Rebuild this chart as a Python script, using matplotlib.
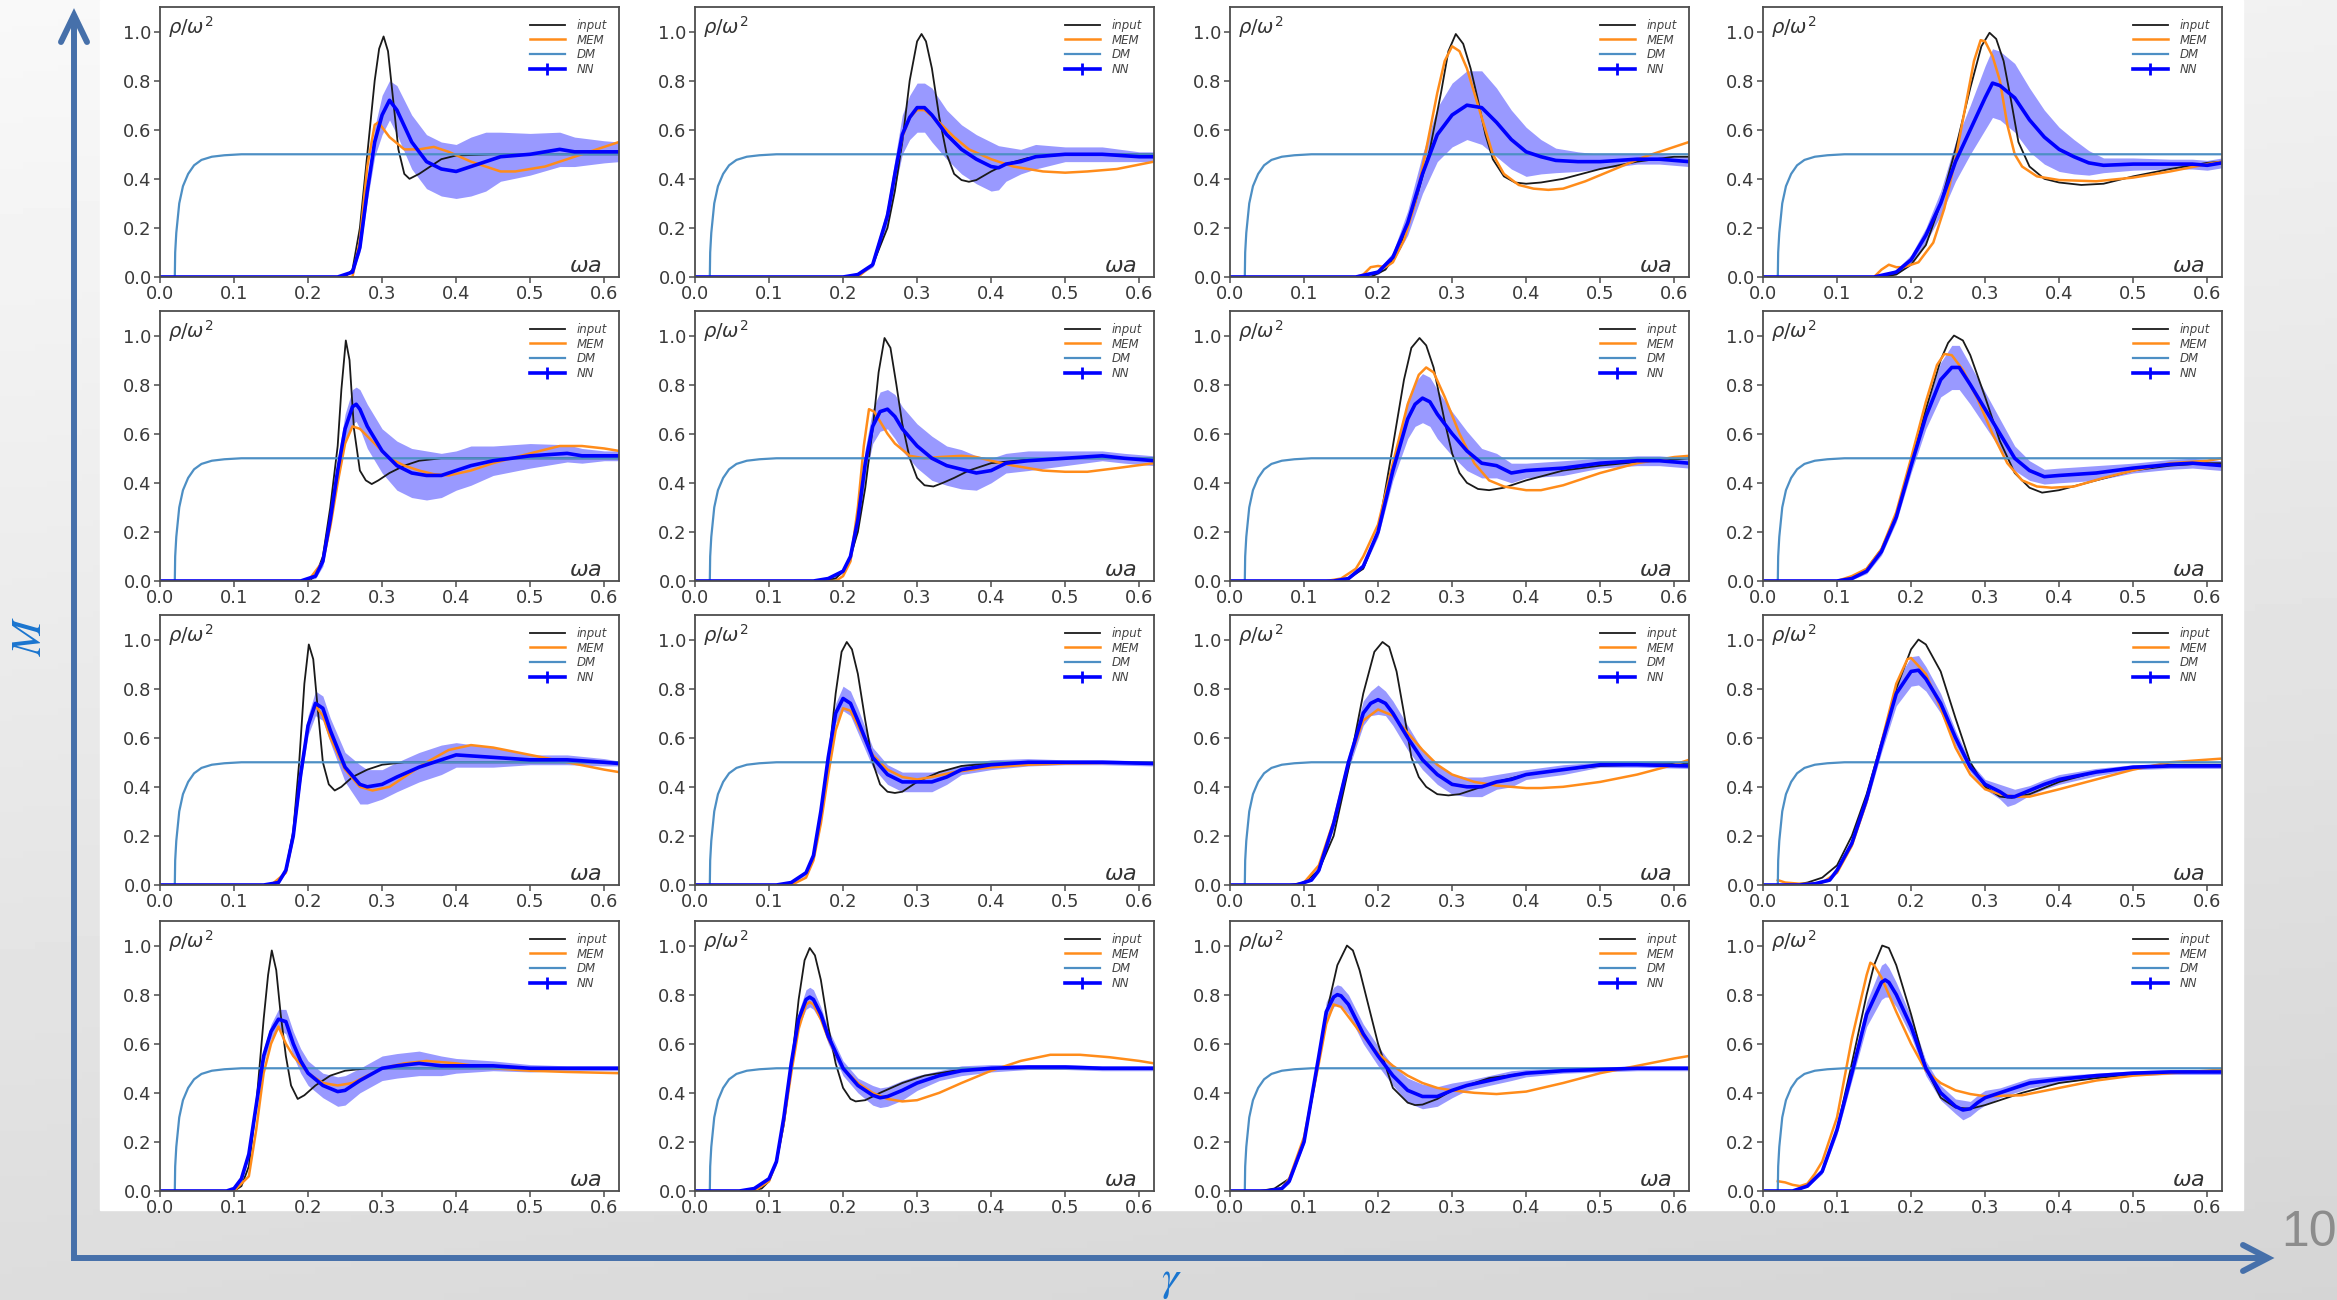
import matplotlib
matplotlib.use("Agg")
import matplotlib.pyplot as plt
import matplotlib.ticker as ticker
from matplotlib.lines import Line2D
from matplotlib.patches import Rectangle
import numpy as np

# ── Digitised curves ─────────────────────────────────────────────────────────
# input / MEM: (x, y);  NN: (x, y, half-width of the error band)
dm = [(0, 0), (0.02, 0), (0.0205, 0.1), (0.022, 0.18), (0.026, 0.3), (0.031, 0.37),
      (0.038, 0.42), (0.046, 0.455), (0.056, 0.477), (0.07, 0.49), (0.087, 0.496),
      (0.11, 0.5), (0.62, 0.5)]

# row 1 – peak at ωa ≈ 0.30
input_11 = [(0, 0), (0.25, 0), (0.26, 0.03), (0.27, 0.2), (0.28, 0.5), (0.29, 0.8), (0.296, 0.93),
            (0.302, 0.98), (0.308, 0.92), (0.315, 0.72), (0.322, 0.52), (0.33, 0.42), (0.337, 0.40),
            (0.35, 0.42), (0.365, 0.45), (0.38, 0.48), (0.40, 0.495), (0.45, 0.5), (0.62, 0.5)]
mem_11 = [(0, 0), (0.26, 0), (0.27, 0.15), (0.28, 0.45), (0.29, 0.62), (0.295, 0.63), (0.31, 0.57),
          (0.33, 0.52), (0.35, 0.52), (0.37, 0.53), (0.39, 0.51), (0.42, 0.47), (0.46, 0.43),
          (0.48, 0.43), (0.52, 0.45), (0.56, 0.49), (0.60, 0.53), (0.62, 0.55)]
nn_11 = [(0, 0, 0), (0.24, 0, 0), (0.26, 0.02, 0.005), (0.27, 0.12, 0.02), (0.28, 0.35, 0.04),
         (0.29, 0.55, 0.06), (0.30, 0.66, 0.08), (0.31, 0.72, 0.08), (0.32, 0.68, 0.1), (0.34, 0.55, 0.11),
         (0.36, 0.47, 0.11), (0.38, 0.44, 0.11), (0.40, 0.43, 0.11), (0.42, 0.45, 0.12), (0.44, 0.47, 0.12),
         (0.46, 0.49, 0.1), (0.50, 0.50, 0.085), (0.54, 0.52, 0.07), (0.56, 0.51, 0.06), (0.60, 0.51, 0.045),
         (0.62, 0.51, 0.04)]

input_12 = [(0, 0), (0.20, 0), (0.22, 0.01), (0.24, 0.05), (0.26, 0.2), (0.27, 0.35), (0.28, 0.55),
            (0.29, 0.8), (0.30, 0.96), (0.306, 0.99), (0.312, 0.96), (0.32, 0.85), (0.33, 0.65), (0.34, 0.5),
            (0.35, 0.42), (0.36, 0.395), (0.37, 0.388), (0.38, 0.395), (0.40, 0.43), (0.42, 0.46),
            (0.45, 0.485), (0.50, 0.5), (0.62, 0.5)]
mem_12 = [(0, 0), (0.22, 0), (0.24, 0.05), (0.26, 0.25), (0.27, 0.42), (0.28, 0.57), (0.29, 0.65),
          (0.30, 0.68), (0.31, 0.68), (0.33, 0.63), (0.35, 0.57), (0.37, 0.52), (0.40, 0.48), (0.43, 0.45),
          (0.47, 0.43), (0.50, 0.425), (0.53, 0.43), (0.57, 0.44), (0.62, 0.47)]
nn_12 = [(0, 0, 0), (0.20, 0, 0), (0.22, 0.01, 0.005), (0.24, 0.05, 0.01), (0.26, 0.25, 0.04),
         (0.27, 0.42, 0.06), (0.28, 0.58, 0.08), (0.29, 0.65, 0.09), (0.30, 0.69, 0.1), (0.31, 0.69, 0.1),
         (0.32, 0.66, 0.11), (0.34, 0.58, 0.1), (0.36, 0.52, 0.1), (0.38, 0.48, 0.1), (0.40, 0.45, 0.1),
         (0.41, 0.445, 0.09), (0.42, 0.46, 0.07), (0.44, 0.47, 0.05), (0.46, 0.49, 0.05), (0.50, 0.50, 0.03),
         (0.55, 0.50, 0.03), (0.60, 0.49, 0.02), (0.62, 0.49, 0.02)]

input_13 = [(0, 0), (0.19, 0), (0.21, 0.03), (0.23, 0.12), (0.25, 0.3), (0.27, 0.52), (0.285, 0.75),
            (0.295, 0.92), (0.305, 0.99), (0.315, 0.95), (0.325, 0.85), (0.335, 0.72), (0.345, 0.58),
            (0.355, 0.48), (0.37, 0.41), (0.385, 0.385), (0.40, 0.38), (0.42, 0.385), (0.45, 0.40),
            (0.50, 0.44), (0.55, 0.47), (0.60, 0.49), (0.62, 0.49)]
mem_13 = [(0, 0), (0.17, 0), (0.18, 0.01), (0.19, 0.04), (0.20, 0.045), (0.21, 0.04), (0.22, 0.06),
          (0.235, 0.15), (0.25, 0.3), (0.265, 0.52), (0.28, 0.75), (0.29, 0.88), (0.30, 0.94), (0.31, 0.92),
          (0.32, 0.85), (0.335, 0.7), (0.345, 0.6), (0.355, 0.5), (0.37, 0.42), (0.39, 0.375), (0.41, 0.36),
          (0.43, 0.355), (0.45, 0.36), (0.48, 0.39), (0.52, 0.44), (0.56, 0.49), (0.59, 0.52), (0.62, 0.55)]
nn_13 = [(0, 0, 0), (0.17, 0, 0), (0.20, 0.02, 0.01), (0.22, 0.08, 0.02), (0.24, 0.22, 0.05),
         (0.26, 0.42, 0.08), (0.28, 0.58, 0.11), (0.30, 0.66, 0.13), (0.32, 0.70, 0.14), (0.34, 0.69, 0.15),
         (0.36, 0.63, 0.14), (0.38, 0.56, 0.12), (0.40, 0.51, 0.1), (0.42, 0.49, 0.07), (0.44, 0.475, 0.05),
         (0.47, 0.47, 0.04), (0.50, 0.47, 0.03), (0.55, 0.48, 0.02), (0.58, 0.48, 0.02), (0.62, 0.47, 0.02)]

input_14 = [(0, 0), (0.16, 0), (0.18, 0.01), (0.20, 0.05), (0.22, 0.13), (0.24, 0.3), (0.26, 0.52),
            (0.28, 0.77), (0.295, 0.94), (0.306, 0.995), (0.315, 0.97), (0.325, 0.88), (0.335, 0.72),
            (0.345, 0.55), (0.36, 0.45), (0.38, 0.40), (0.40, 0.385), (0.43, 0.375), (0.46, 0.38),
            (0.50, 0.41), (0.55, 0.44), (0.60, 0.465), (0.62, 0.47)]
mem_14 = [(0, 0), (0.15, 0), (0.16, 0.03), (0.17, 0.05), (0.18, 0.04), (0.19, 0.04), (0.21, 0.06),
          (0.23, 0.14), (0.245, 0.28), (0.26, 0.48), (0.275, 0.72), (0.285, 0.88), (0.294, 0.965),
          (0.30, 0.96), (0.31, 0.9), (0.32, 0.8), (0.33, 0.62), (0.34, 0.5), (0.35, 0.45), (0.37, 0.41),
          (0.40, 0.395), (0.45, 0.39), (0.50, 0.405), (0.55, 0.43), (0.60, 0.46), (0.62, 0.47)]
nn_14 = [(0, 0, 0), (0.15, 0, 0), (0.18, 0.02, 0.01), (0.20, 0.07, 0.02), (0.22, 0.17, 0.03),
         (0.24, 0.3, 0.05), (0.26, 0.47, 0.08), (0.28, 0.6, 0.1), (0.30, 0.73, 0.13), (0.31, 0.79, 0.14),
         (0.32, 0.78, 0.14), (0.33, 0.755, 0.14), (0.34, 0.73, 0.14), (0.36, 0.64, 0.13), (0.38, 0.57, 0.11),
         (0.40, 0.52, 0.09), (0.42, 0.49, 0.07), (0.44, 0.465, 0.05), (0.46, 0.455, 0.03), (0.50, 0.46, 0.025),
         (0.55, 0.46, 0.02), (0.58, 0.46, 0.02), (0.60, 0.455, 0.02), (0.62, 0.465, 0.02)]

# row 2 – peak at ωa ≈ 0.25
input_21 = [(0, 0), (0.20, 0), (0.21, 0.02), (0.22, 0.1), (0.23, 0.3), (0.24, 0.55), (0.245, 0.78),
            (0.251, 0.98), (0.256, 0.9), (0.262, 0.62), (0.27, 0.45), (0.278, 0.41), (0.286, 0.395),
            (0.295, 0.41), (0.31, 0.44), (0.33, 0.47), (0.35, 0.49), (0.38, 0.5), (0.62, 0.5)]
mem_21 = [(0, 0), (0.20, 0), (0.22, 0.08), (0.23, 0.22), (0.24, 0.4), (0.25, 0.56), (0.26, 0.63),
          (0.27, 0.62), (0.29, 0.56), (0.31, 0.5), (0.33, 0.47), (0.35, 0.45), (0.37, 0.435), (0.39, 0.43),
          (0.42, 0.45), (0.45, 0.48), (0.50, 0.52), (0.54, 0.55), (0.57, 0.55), (0.60, 0.54), (0.62, 0.53)]
nn_21 = [(0, 0, 0), (0.19, 0, 0), (0.21, 0.02, 0.01), (0.22, 0.08, 0.02), (0.23, 0.25, 0.03),
         (0.24, 0.45, 0.05), (0.25, 0.62, 0.06), (0.26, 0.71, 0.07), (0.265, 0.72, 0.07), (0.27, 0.7, 0.08),
         (0.28, 0.63, 0.09), (0.30, 0.53, 0.09), (0.32, 0.47, 0.1), (0.34, 0.44, 0.1), (0.36, 0.43, 0.1),
         (0.38, 0.43, 0.09), (0.40, 0.45, 0.08), (0.42, 0.47, 0.08), (0.45, 0.49, 0.06), (0.50, 0.51, 0.05),
         (0.55, 0.52, 0.035), (0.57, 0.51, 0.03), (0.60, 0.51, 0.02), (0.62, 0.51, 0.02)]

input_22 = [(0, 0), (0.17, 0), (0.19, 0.01), (0.20, 0.04), (0.21, 0.1), (0.22, 0.2), (0.23, 0.38),
            (0.24, 0.62), (0.248, 0.85), (0.256, 0.99), (0.264, 0.95), (0.272, 0.8), (0.28, 0.64),
            (0.29, 0.5), (0.30, 0.42), (0.31, 0.39), (0.322, 0.385), (0.335, 0.4), (0.35, 0.42),
            (0.37, 0.45), (0.40, 0.48), (0.45, 0.495), (0.50, 0.5), (0.62, 0.5)]
mem_22 = [(0, 0), (0.19, 0), (0.20, 0.02), (0.21, 0.08), (0.22, 0.3), (0.228, 0.55), (0.235, 0.70),
          (0.242, 0.69), (0.25, 0.65), (0.26, 0.6), (0.27, 0.56), (0.29, 0.51), (0.31, 0.5), (0.33, 0.505),
          (0.36, 0.51), (0.38, 0.505), (0.40, 0.49), (0.43, 0.47), (0.47, 0.45), (0.50, 0.445),
          (0.53, 0.445), (0.57, 0.46), (0.62, 0.48)]
nn_22 = [(0, 0, 0), (0.16, 0, 0), (0.18, 0.01, 0.005), (0.20, 0.04, 0.01), (0.21, 0.1, 0.02),
         (0.22, 0.25, 0.04), (0.23, 0.48, 0.06), (0.24, 0.63, 0.07), (0.25, 0.69, 0.08), (0.26, 0.70, 0.08),
         (0.27, 0.67, 0.09), (0.28, 0.62, 0.09), (0.30, 0.55, 0.09), (0.32, 0.50, 0.09), (0.34, 0.47, 0.08),
         (0.36, 0.455, 0.08), (0.38, 0.44, 0.07), (0.40, 0.45, 0.05), (0.42, 0.48, 0.04), (0.45, 0.49, 0.04),
         (0.50, 0.50, 0.03), (0.55, 0.51, 0.02), (0.58, 0.50, 0.02), (0.62, 0.49, 0.02)]

input_23 = [(0, 0), (0.15, 0), (0.16, 0.01), (0.18, 0.05), (0.20, 0.2), (0.22, 0.55), (0.235, 0.82),
            (0.245, 0.95), (0.256, 0.99), (0.265, 0.96), (0.275, 0.87), (0.29, 0.65), (0.30, 0.52),
            (0.31, 0.44), (0.32, 0.40), (0.335, 0.375), (0.35, 0.37), (0.37, 0.38), (0.40, 0.41),
            (0.45, 0.45), (0.50, 0.47), (0.55, 0.485), (0.60, 0.495), (0.62, 0.5)]
mem_23 = [(0, 0), (0.13, 0), (0.15, 0.01), (0.17, 0.05), (0.18, 0.1), (0.20, 0.23), (0.22, 0.48),
          (0.24, 0.72), (0.255, 0.84), (0.265, 0.87), (0.275, 0.85), (0.29, 0.75), (0.31, 0.6), (0.33, 0.48),
          (0.35, 0.41), (0.37, 0.385), (0.40, 0.37), (0.42, 0.37), (0.45, 0.39), (0.50, 0.44), (0.55, 0.48),
          (0.60, 0.505), (0.62, 0.51)]
nn_23 = [(0, 0, 0), (0.14, 0, 0), (0.16, 0.01, 0.005), (0.18, 0.06, 0.01), (0.20, 0.2, 0.02),
         (0.22, 0.45, 0.04), (0.24, 0.66, 0.08), (0.25, 0.72, 0.09), (0.26, 0.745, 0.1), (0.27, 0.73, 0.1),
         (0.28, 0.68, 0.1), (0.30, 0.6, 0.09), (0.32, 0.53, 0.08), (0.34, 0.48, 0.06), (0.36, 0.47, 0.05),
         (0.38, 0.44, 0.04), (0.40, 0.45, 0.03), (0.45, 0.46, 0.03), (0.50, 0.48, 0.02), (0.55, 0.49, 0.02),
         (0.58, 0.49, 0.02), (0.62, 0.48, 0.02)]

input_24 = [(0, 0), (0.10, 0), (0.12, 0.01), (0.14, 0.05), (0.16, 0.13), (0.18, 0.27), (0.20, 0.48),
            (0.22, 0.7), (0.24, 0.9), (0.25, 0.97), (0.258, 1.0), (0.27, 0.98), (0.28, 0.92), (0.30, 0.75),
            (0.32, 0.57), (0.34, 0.44), (0.36, 0.38), (0.377, 0.36), (0.40, 0.37), (0.45, 0.41),
            (0.50, 0.45), (0.55, 0.47), (0.60, 0.48), (0.62, 0.48)]
mem_24 = [(0, 0), (0.10, 0), (0.12, 0.02), (0.14, 0.05), (0.16, 0.13), (0.18, 0.28), (0.20, 0.5),
          (0.22, 0.73), (0.235, 0.88), (0.245, 0.925), (0.255, 0.92), (0.27, 0.86), (0.29, 0.74),
          (0.31, 0.6), (0.33, 0.48), (0.35, 0.41), (0.37, 0.385), (0.39, 0.38), (0.42, 0.385), (0.46, 0.42),
          (0.50, 0.45), (0.55, 0.48), (0.60, 0.49), (0.62, 0.5)]
nn_24 = [(0, 0, 0), (0.10, 0, 0), (0.12, 0.01, 0.005), (0.14, 0.04, 0.01), (0.16, 0.12, 0.015),
         (0.18, 0.26, 0.02), (0.20, 0.47, 0.03), (0.22, 0.67, 0.05), (0.24, 0.82, 0.07), (0.255, 0.87, 0.09),
         (0.265, 0.87, 0.09), (0.28, 0.8, 0.08), (0.30, 0.7, 0.07), (0.32, 0.6, 0.06), (0.34, 0.5, 0.05),
         (0.36, 0.45, 0.04), (0.38, 0.425, 0.03), (0.40, 0.43, 0.03), (0.45, 0.44, 0.03), (0.50, 0.46, 0.02),
         (0.55, 0.475, 0.02), (0.58, 0.48, 0.02), (0.62, 0.47, 0.02)]

# row 3 – peak at ωa ≈ 0.20
input_31 = [(0, 0), (0.15, 0), (0.16, 0.01), (0.17, 0.06), (0.18, 0.22), (0.188, 0.5), (0.195, 0.82),
            (0.201, 0.98), (0.207, 0.92), (0.213, 0.72), (0.22, 0.5), (0.228, 0.41), (0.236, 0.385),
            (0.245, 0.4), (0.26, 0.44), (0.28, 0.47), (0.30, 0.49), (0.33, 0.5), (0.62, 0.5)]
mem_31 = [(0, 0), (0.15, 0), (0.17, 0.05), (0.18, 0.2), (0.19, 0.45), (0.20, 0.65), (0.21, 0.73),
          (0.22, 0.69), (0.23, 0.6), (0.25, 0.47), (0.27, 0.4), (0.287, 0.385), (0.31, 0.4), (0.33, 0.44),
          (0.36, 0.5), (0.39, 0.55), (0.42, 0.57), (0.45, 0.56), (0.50, 0.53), (0.55, 0.5), (0.60, 0.47),
          (0.62, 0.46)]
nn_31 = [(0, 0, 0), (0.14, 0, 0), (0.16, 0.01, 0.005), (0.17, 0.06, 0.01), (0.18, 0.2, 0.02),
         (0.19, 0.45, 0.03), (0.20, 0.65, 0.04), (0.21, 0.74, 0.05), (0.22, 0.72, 0.05), (0.23, 0.63, 0.05),
         (0.25, 0.48, 0.06), (0.27, 0.41, 0.08), (0.28, 0.40, 0.07), (0.30, 0.41, 0.06), (0.32, 0.44, 0.06),
         (0.35, 0.48, 0.06), (0.38, 0.51, 0.06), (0.40, 0.53, 0.05), (0.45, 0.52, 0.04), (0.50, 0.51, 0.02),
         (0.55, 0.51, 0.02), (0.60, 0.50, 0.015), (0.62, 0.495, 0.01)]

input_32 = [(0, 0), (0.11, 0), (0.13, 0.01), (0.15, 0.05), (0.16, 0.12), (0.17, 0.27), (0.18, 0.5),
            (0.19, 0.78), (0.198, 0.95), (0.205, 0.99), (0.212, 0.96), (0.22, 0.86), (0.23, 0.67),
            (0.24, 0.5), (0.25, 0.41), (0.26, 0.38), (0.27, 0.375), (0.28, 0.38), (0.30, 0.42),
            (0.33, 0.46), (0.36, 0.485), (0.40, 0.495), (0.45, 0.5), (0.62, 0.5)]
mem_32 = [(0, 0), (0.13, 0), (0.15, 0.03), (0.16, 0.1), (0.17, 0.25), (0.18, 0.45), (0.19, 0.63),
          (0.20, 0.72), (0.21, 0.71), (0.22, 0.65), (0.24, 0.53), (0.26, 0.47), (0.28, 0.44), (0.30, 0.43),
          (0.32, 0.44), (0.35, 0.46), (0.40, 0.48), (0.45, 0.49), (0.50, 0.495), (0.62, 0.5)]
nn_32 = [(0, 0, 0), (0.11, 0, 0), (0.13, 0.01, 0.005), (0.15, 0.05, 0.01), (0.16, 0.12, 0.01),
         (0.17, 0.3, 0.02), (0.18, 0.52, 0.03), (0.19, 0.7, 0.04), (0.20, 0.76, 0.05), (0.21, 0.74, 0.05),
         (0.22, 0.67, 0.05), (0.24, 0.52, 0.04), (0.26, 0.45, 0.04), (0.28, 0.42, 0.04), (0.30, 0.42, 0.04),
         (0.32, 0.42, 0.04), (0.34, 0.44, 0.03), (0.36, 0.47, 0.02), (0.40, 0.49, 0.02), (0.45, 0.50, 0.015),
         (0.50, 0.50, 0.01), (0.55, 0.50, 0.01), (0.62, 0.495, 0.01)]

input_33 = [(0, 0), (0.08, 0), (0.10, 0.01), (0.12, 0.06), (0.14, 0.2), (0.162, 0.5), (0.18, 0.78),
            (0.195, 0.95), (0.206, 0.99), (0.215, 0.97), (0.225, 0.87), (0.235, 0.7), (0.245, 0.52),
            (0.255, 0.44), (0.265, 0.4), (0.28, 0.37), (0.295, 0.365), (0.31, 0.37), (0.33, 0.39),
            (0.36, 0.42), (0.40, 0.45), (0.45, 0.47), (0.50, 0.485), (0.55, 0.49), (0.62, 0.495)]
mem_33 = [(0, 0), (0.09, 0), (0.10, 0.01), (0.12, 0.08), (0.14, 0.26), (0.16, 0.5), (0.18, 0.67),
          (0.20, 0.715), (0.22, 0.69), (0.24, 0.62), (0.26, 0.55), (0.28, 0.49), (0.30, 0.45), (0.33, 0.42),
          (0.36, 0.405), (0.40, 0.395), (0.42, 0.395), (0.45, 0.40), (0.50, 0.42), (0.55, 0.45),
          (0.60, 0.49), (0.62, 0.51)]
nn_33 = [(0, 0, 0), (0.09, 0, 0), (0.11, 0.02, 0.005), (0.12, 0.06, 0.01), (0.14, 0.25, 0.02),
         (0.16, 0.5, 0.03), (0.18, 0.7, 0.05), (0.19, 0.74, 0.05), (0.20, 0.755, 0.06), (0.21, 0.74, 0.05),
         (0.22, 0.7, 0.05), (0.24, 0.6, 0.05), (0.26, 0.51, 0.04), (0.28, 0.45, 0.04), (0.30, 0.41, 0.04),
         (0.32, 0.40, 0.04), (0.34, 0.40, 0.04), (0.36, 0.42, 0.03), (0.38, 0.43, 0.03), (0.40, 0.45, 0.02),
         (0.45, 0.47, 0.02), (0.50, 0.49, 0.01), (0.55, 0.49, 0.01), (0.62, 0.485, 0.01)]

input_34 = [(0, 0), (0.04, 0), (0.06, 0.01), (0.08, 0.03), (0.10, 0.08), (0.12, 0.2), (0.14, 0.37),
            (0.16, 0.58), (0.18, 0.8), (0.20, 0.96), (0.21, 1.0), (0.22, 0.98), (0.24, 0.87), (0.26, 0.68),
            (0.28, 0.5), (0.30, 0.4), (0.32, 0.36), (0.336, 0.355), (0.36, 0.37), (0.40, 0.42),
            (0.45, 0.46), (0.50, 0.48), (0.55, 0.49), (0.62, 0.49)]
mem_34 = [(0.02, 0.02), (0.03, 0.01), (0.05, 0.005), (0.07, 0.005), (0.08, 0.01), (0.10, 0.05),
          (0.12, 0.16), (0.14, 0.34), (0.16, 0.58), (0.18, 0.82), (0.195, 0.92), (0.20, 0.925), (0.22, 0.86),
          (0.24, 0.72), (0.26, 0.56), (0.28, 0.45), (0.30, 0.39), (0.32, 0.37), (0.34, 0.36), (0.36, 0.36),
          (0.40, 0.39), (0.45, 0.43), (0.50, 0.47), (0.55, 0.5), (0.62, 0.515)]
nn_34 = [(0, 0, 0), (0.05, 0, 0), (0.07, 0.005, 0), (0.09, 0.02, 0.005), (0.10, 0.06, 0.01),
         (0.12, 0.17, 0.01), (0.14, 0.35, 0.02), (0.16, 0.57, 0.03), (0.18, 0.78, 0.05), (0.20, 0.87, 0.06),
         (0.21, 0.875, 0.06), (0.22, 0.84, 0.05), (0.24, 0.74, 0.04), (0.26, 0.6, 0.03), (0.28, 0.48, 0.02),
         (0.30, 0.41, 0.02), (0.32, 0.38, 0.03), (0.33, 0.36, 0.04), (0.34, 0.36, 0.03), (0.36, 0.385, 0.02),
         (0.38, 0.41, 0.02), (0.40, 0.43, 0.02), (0.45, 0.46, 0.015), (0.50, 0.48, 0.01), (0.55, 0.485, 0.01),
         (0.62, 0.485, 0.01)]

# row 4 – peak at ωa ≈ 0.15
input_41 = [(0, 0), (0.10, 0), (0.11, 0.02), (0.12, 0.1), (0.13, 0.35), (0.14, 0.7), (0.146, 0.88),
            (0.151, 0.98), (0.157, 0.9), (0.163, 0.72), (0.17, 0.55), (0.177, 0.43), (0.186, 0.375),
            (0.195, 0.39), (0.21, 0.43), (0.23, 0.47), (0.25, 0.49), (0.28, 0.5), (0.62, 0.5)]
mem_41 = [(0, 0), (0.10, 0), (0.12, 0.06), (0.13, 0.25), (0.14, 0.48), (0.15, 0.6), (0.16, 0.67),
          (0.17, 0.6), (0.18, 0.55), (0.20, 0.48), (0.22, 0.44), (0.24, 0.43), (0.26, 0.44), (0.28, 0.47),
          (0.30, 0.5), (0.33, 0.52), (0.36, 0.53), (0.40, 0.52), (0.45, 0.5), (0.50, 0.49), (0.55, 0.485),
          (0.62, 0.48)]
nn_41 = [(0, 0, 0), (0.09, 0, 0), (0.10, 0.01, 0.005), (0.11, 0.05, 0.01), (0.12, 0.15, 0.015),
         (0.13, 0.35, 0.02), (0.14, 0.55, 0.03), (0.15, 0.65, 0.03), (0.16, 0.70, 0.04), (0.17, 0.69, 0.05),
         (0.18, 0.6, 0.05), (0.19, 0.53, 0.05), (0.20, 0.48, 0.05), (0.22, 0.43, 0.05), (0.24, 0.405, 0.06),
         (0.25, 0.41, 0.06), (0.27, 0.45, 0.05), (0.30, 0.5, 0.05), (0.32, 0.51, 0.05), (0.35, 0.52, 0.05),
         (0.38, 0.51, 0.04), (0.40, 0.51, 0.03), (0.45, 0.51, 0.02), (0.50, 0.50, 0.015), (0.55, 0.50, 0.01),
         (0.62, 0.50, 0.01)]

input_42 = [(0, 0), (0.07, 0), (0.09, 0.01), (0.10, 0.04), (0.11, 0.12), (0.12, 0.27), (0.13, 0.5),
            (0.14, 0.78), (0.148, 0.94), (0.155, 0.99), (0.162, 0.96), (0.17, 0.86), (0.18, 0.67),
            (0.19, 0.52), (0.20, 0.42), (0.21, 0.375), (0.217, 0.365), (0.23, 0.37), (0.25, 0.4),
            (0.28, 0.44), (0.31, 0.47), (0.35, 0.49), (0.40, 0.5), (0.62, 0.5)]
mem_42 = [(0, 0), (0.08, 0), (0.10, 0.04), (0.11, 0.12), (0.12, 0.28), (0.13, 0.48), (0.14, 0.66),
          (0.15, 0.76), (0.155, 0.77), (0.16, 0.76), (0.17, 0.7), (0.18, 0.62), (0.20, 0.5), (0.22, 0.44),
          (0.24, 0.4), (0.26, 0.375), (0.28, 0.365), (0.30, 0.37), (0.33, 0.4), (0.36, 0.44), (0.40, 0.49),
          (0.44, 0.53), (0.48, 0.555), (0.52, 0.555), (0.56, 0.545), (0.60, 0.53), (0.62, 0.52)]
nn_42 = [(0, 0, 0), (0.06, 0, 0), (0.08, 0.01, 0.005), (0.10, 0.05, 0.01), (0.11, 0.12, 0.015),
         (0.12, 0.3, 0.02), (0.13, 0.52, 0.03), (0.14, 0.7, 0.03), (0.15, 0.78, 0.04), (0.155, 0.79, 0.04),
         (0.16, 0.78, 0.04), (0.17, 0.72, 0.03), (0.18, 0.63, 0.03), (0.20, 0.5, 0.03), (0.22, 0.43, 0.03),
         (0.24, 0.39, 0.04), (0.25, 0.38, 0.04), (0.26, 0.385, 0.04), (0.28, 0.41, 0.04), (0.30, 0.44, 0.03),
         (0.33, 0.47, 0.02), (0.36, 0.49, 0.02), (0.40, 0.50, 0.015), (0.45, 0.505, 0.01), (0.50, 0.505, 0.01),
         (0.55, 0.50, 0.01), (0.62, 0.50, 0.01)]

input_43 = [(0, 0), (0.04, 0), (0.06, 0.01), (0.08, 0.05), (0.10, 0.2), (0.115, 0.45), (0.13, 0.72),
            (0.145, 0.92), (0.158, 1.0), (0.166, 0.98), (0.175, 0.9), (0.19, 0.72), (0.20, 0.6),
            (0.22, 0.42), (0.24, 0.36), (0.25, 0.35), (0.26, 0.352), (0.28, 0.375), (0.30, 0.41),
            (0.35, 0.46), (0.40, 0.48), (0.45, 0.49), (0.50, 0.495), (0.62, 0.5)]
mem_43 = [(0, 0), (0.06, 0), (0.07, 0.01), (0.08, 0.05), (0.10, 0.22), (0.12, 0.52), (0.13, 0.68),
          (0.14, 0.76), (0.15, 0.75), (0.16, 0.71), (0.18, 0.63), (0.20, 0.56), (0.22, 0.51), (0.24, 0.47),
          (0.26, 0.44), (0.28, 0.42), (0.30, 0.41), (0.33, 0.40), (0.36, 0.395), (0.40, 0.405), (0.45, 0.44),
          (0.50, 0.48), (0.55, 0.51), (0.60, 0.54), (0.62, 0.55)]
nn_43 = [(0, 0, 0), (0.05, 0, 0), (0.07, 0.01, 0.005), (0.08, 0.04, 0.01), (0.10, 0.2, 0.01),
         (0.12, 0.55, 0.03), (0.13, 0.73, 0.04), (0.14, 0.79, 0.04), (0.145, 0.80, 0.04), (0.15, 0.795, 0.04),
         (0.16, 0.76, 0.04), (0.18, 0.64, 0.04), (0.20, 0.55, 0.04), (0.22, 0.47, 0.04), (0.24, 0.41, 0.05),
         (0.26, 0.385, 0.05), (0.28, 0.385, 0.04), (0.30, 0.41, 0.03), (0.32, 0.43, 0.02), (0.35, 0.45, 0.02),
         (0.38, 0.47, 0.02), (0.40, 0.48, 0.015), (0.45, 0.49, 0.01), (0.50, 0.495, 0.01), (0.55, 0.50, 0.01),
         (0.62, 0.50, 0.01)]

input_44 = [(0, 0), (0.04, 0), (0.06, 0.02), (0.08, 0.08), (0.10, 0.25), (0.12, 0.52), (0.14, 0.8),
            (0.15, 0.92), (0.161, 1.0), (0.17, 0.99), (0.18, 0.92), (0.20, 0.72), (0.22, 0.5), (0.24, 0.38),
            (0.26, 0.34), (0.28, 0.335), (0.30, 0.35), (0.35, 0.4), (0.40, 0.44), (0.45, 0.46), (0.50, 0.475),
            (0.55, 0.485), (0.62, 0.49)]
mem_44 = [(0.02, 0.04), (0.03, 0.035), (0.04, 0.025), (0.05, 0.02), (0.06, 0.03), (0.07, 0.07),
          (0.08, 0.12), (0.10, 0.3), (0.12, 0.62), (0.14, 0.88), (0.145, 0.93), (0.15, 0.92), (0.16, 0.87),
          (0.17, 0.8), (0.18, 0.73), (0.20, 0.6), (0.22, 0.49), (0.24, 0.44), (0.26, 0.41), (0.28, 0.395),
          (0.30, 0.386), (0.35, 0.39), (0.40, 0.42), (0.45, 0.45), (0.50, 0.47), (0.55, 0.48), (0.60, 0.49),
          (0.62, 0.495)]
nn_44 = [(0, 0, 0), (0.04, 0, 0), (0.06, 0.02, 0.005), (0.08, 0.08, 0.01), (0.10, 0.25, 0.02),
         (0.12, 0.48, 0.03), (0.14, 0.72, 0.05), (0.16, 0.85, 0.07), (0.165, 0.86, 0.07), (0.17, 0.85, 0.06),
         (0.18, 0.8, 0.05), (0.20, 0.67, 0.04), (0.22, 0.5, 0.03), (0.24, 0.4, 0.03), (0.26, 0.345, 0.03),
         (0.27, 0.33, 0.04), (0.28, 0.335, 0.03), (0.29, 0.36, 0.03), (0.30, 0.38, 0.03), (0.32, 0.40, 0.02),
         (0.34, 0.42, 0.02), (0.36, 0.44, 0.02), (0.40, 0.455, 0.015), (0.45, 0.47, 0.01), (0.50, 0.48, 0.01),
         (0.55, 0.485, 0.01), (0.62, 0.485, 0.01)]

PANELS = [
    [(input_11, mem_11, nn_11), (input_12, mem_12, nn_12), (input_13, mem_13, nn_13), (input_14, mem_14, nn_14)],
    [(input_21, mem_21, nn_21), (input_22, mem_22, nn_22), (input_23, mem_23, nn_23), (input_24, mem_24, nn_24)],
    [(input_31, mem_31, nn_31), (input_32, mem_32, nn_32), (input_33, mem_33, nn_33), (input_34, mem_34, nn_34)],
    [(input_41, mem_41, nn_41), (input_42, mem_42, nn_42), (input_43, mem_43, nn_43), (input_44, mem_44, nn_44)],
]

XTICKS = [0.0, 0.1, 0.2, 0.3, 0.4, 0.5, 0.6]
YTICKS = [0.0, 0.2, 0.4, 0.6, 0.8, 1.0]
LEGEND_LABELS = ["input", "MEM", "DM", "NN"]

# ── Styling ──────────────────────────────────────────────────────────────────
W, H = 2337, 1300
C_INPUT, C_MEM, C_DM, C_NN = "#1a1a1a", "#ff8c1a", "#4d8fc4", "#0000ff"
C_AXIS = "#4d4d4d"
C_ARROW = "#4670aa"
COL_LEFT = [160, 695, 1230, 1763]      # px from left
ROW_BOTTOM = [277, 581, 885, 1191]     # px from top
AX_W, AX_H = 459, 270


def fx(px):
    return px / W


def fy(py):
    return 1 - py / H


fig = plt.figure(figsize=(W / 100, H / 100), dpi=100)

# slide background: soft grey gradient + white picture area
bg = fig.add_axes([0, 0, 1, 1], zorder=-10)
vv, hh = np.mgrid[0:1:200j, 0:1:200j]
bg.imshow(0.975 - 0.11 * vv - 0.03 * hh, extent=[0, 1, 0, 1], aspect="auto",
          cmap="gray", vmin=0, vmax=1)
bg.add_patch(Rectangle((fx(100), fy(1210)), fx(2243) - fx(100), 1 - fy(1210),
                       color="white", transform=bg.transAxes, zorder=2))
bg.set_xlim(0, 1)
bg.set_ylim(0, 1)
bg.axis("off")

handles = [Line2D([], [], color=C_INPUT, lw=1.3),
           Line2D([], [], color=C_MEM, lw=1.8),
           Line2D([], [], color=C_DM, lw=1.6),
           Line2D([], [], color=C_NN, lw=2.6, marker="|", markersize=9, mew=2)]

dm_x, dm_y = np.array(dm).T

for r in range(4):
    for c in range(4):
        inp, mem, nn = PANELS[r][c]
        ax = fig.add_axes([fx(COL_LEFT[c]), fy(ROW_BOTTOM[r]), AX_W / W, AX_H / H])

        x, y = np.array(inp).T
        ax.plot(x, y, color=C_INPUT, lw=1.3)
        x, y = np.array(mem).T
        ax.plot(x, y, color=C_MEM, lw=1.8)
        ax.plot(dm_x, dm_y, color=C_DM, lw=1.6)
        x, y, e = np.array(nn).T
        ax.fill_between(x, y - e, y + e, color=C_NN, alpha=0.4, lw=0)
        ax.plot(x, y, color=C_NN, lw=2.6)

        ax.set_xlim(0, 0.62)
        ax.set_ylim(0, 1.1)
        ax.set_xticks(XTICKS)
        ax.set_yticks(YTICKS)
        ax.xaxis.set_major_formatter(ticker.FormatStrFormatter("%.1f"))
        ax.yaxis.set_major_formatter(ticker.FormatStrFormatter("%.1f"))
        ax.tick_params(labelsize=13, colors=C_AXIS, labelcolor="#3a3a3a",
                       length=4, width=1.1, pad=2)
        for sp in ax.spines.values():
            sp.set_color(C_AXIS)
            sp.set_linewidth(1.3)

        ax.text(0.018, 0.975, r"$\rho/\omega^2$", transform=ax.transAxes,
                ha="left", va="top", fontsize=14, color="#333333")
        ax.text(0.962, 0.004, r"$\omega a$", transform=ax.transAxes,
                ha="right", va="bottom", fontsize=16, color="#333333")
        ax.legend(handles, LEGEND_LABELS, loc="upper right", frameon=False,
                  prop={"size": 8.5, "style": "italic"}, labelcolor="#444444",
                  handlelength=3.0, handletextpad=1.0, labelspacing=0.15,
                  borderaxespad=0.6, numpoints=1)

# axis arrows of the slide
arrow_kw = dict(color=C_ARROW, lw=4.3, solid_capstyle="round", solid_joinstyle="miter",
                transform=fig.transFigure)
fig.add_artist(Line2D([fx(74), fx(74), fx(2264)], [fy(17), fy(1258), fy(1258)], **arrow_kw))
fig.add_artist(Line2D([fx(61), fx(74), fx(87)], [fy(42), fy(15), fy(42)], **arrow_kw))
fig.add_artist(Line2D([fx(2243), fx(2268), fx(2243)], [fy(1245), fy(1258), fy(1271)], **arrow_kw))

fig.text(fx(31), fy(638), "M", rotation=90, fontsize=31, color="#1a75cf",
         family="STIXGeneral", style="italic", ha="center", va="center")
fig.text(fx(1170), fy(1280), "γ", fontsize=31, color="#1a75cf",
         family="STIXGeneral", style="italic", ha="center", va="center")
fig.text(fx(2309), fy(1233), "10", fontsize=36, color="#8c8c8c",
         family="Liberation Sans", ha="center", va="center")

fig.savefig("out.png", dpi=100)
